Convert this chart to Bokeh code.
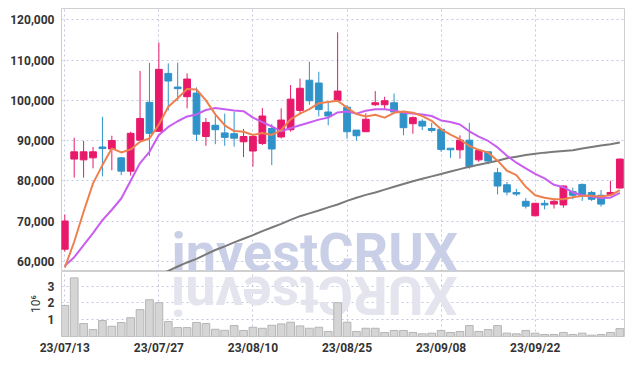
from math import pi
from bokeh.plotting import figure
from bokeh.layouts import column
from bokeh.models import Range1d, FixedTicker, NumeralTickFormatter, ColumnDataSource
from bokeh.core.properties import value
from bokeh.embed import file_html
from bokeh.resources import INLINE

# ---- data ----
dates = ["23/07/13", "23/07/14", "23/07/17", "23/07/18", "23/07/19", "23/07/20", "23/07/21",
         "23/07/24", "23/07/25", "23/07/26", "23/07/27", "23/07/28", "23/07/31",
         "23/08/01", "23/08/02", "23/08/03", "23/08/04", "23/08/07", "23/08/08", "23/08/09",
         "23/08/10", "23/08/11", "23/08/14", "23/08/16", "23/08/17", "23/08/18", "23/08/21",
         "23/08/22", "23/08/23", "23/08/24", "23/08/25", "23/08/28", "23/08/29", "23/08/30",
         "23/08/31", "23/09/01", "23/09/04", "23/09/05", "23/09/06", "23/09/07", "23/09/08",
         "23/09/11", "23/09/12", "23/09/13", "23/09/14", "23/09/15", "23/09/18", "23/09/19",
         "23/09/20", "23/09/21", "23/09/22", "23/09/25", "23/09/26", "23/09/27", "23/10/04",
         "23/10/05", "23/10/06", "23/10/10", "23/10/11", "23/10/12"]

opens = [63000, 85400, 85200, 85700, 88400, 87900, 85700, 82400, 90100, 99500,
         92300, 106700, 103300, 100900, 101800, 91000, 93800, 91900, 91700, 89700,
         87400, 89300, 93000, 90900, 92700, 97500, 105000, 104300, 97100, 100000,
         98300, 92600, 92200, 98900, 98900, 99400, 97100, 94200, 94800, 93000,
         92800, 88100, 87700, 90100, 85200, 87200, 82000, 79000, 77100, 74900,
         71300, 74400, 74200, 74000, 77300, 79100, 77100, 76400, 76600, 78200]
highs = [71600, 90700, 89900, 88400, 95900, 91200, 85900, 92200, 107300, 109300,
         114400, 109200, 109400, 106700, 103200, 95600, 96300, 96700, 97200, 92900,
         91200, 98100, 94100, 98000, 103800, 105400, 109600, 107100, 99600, 116900,
         98800, 92600, 96800, 102300, 100900, 101700, 97200, 96000, 95300, 94400,
         93000, 88100, 91300, 94400, 87800, 87200, 83200, 79700, 78000, 75700,
         74500, 75200, 75600, 78900, 78300, 79300, 77500, 77700, 80000, 85500]
lows = [62400, 80800, 80800, 83100, 81100, 82600, 81400, 81300, 90000, 86200,
        92200, 97500, 99900, 98000, 89900, 88700, 89100, 88700, 88500, 85900,
        83500, 88900, 83900, 90500, 92200, 96700, 98900, 96000, 93800, 99900,
        90500, 90000, 92100, 98600, 97900, 96700, 91300, 91700, 92600, 92000,
        87200, 85700, 85500, 83000, 84700, 84100, 76600, 76400, 76200, 73100,
        71200, 72900, 73100, 73300, 75400, 75000, 75000, 73600, 76500, 78100]
closes = [70000, 87200, 87200, 87200, 88000, 90000, 82400, 91800, 95500, 91800,
          107700, 104800, 102900, 105300, 91600, 94500, 92700, 90800, 90600, 91000,
          91000, 96100, 87900, 95100, 100300, 103000, 99900, 97700, 96100, 102300,
          92200, 91200, 95300, 99400, 99900, 97100, 93200, 95700, 93600, 92500,
          87800, 87700, 90100, 83500, 87500, 84900, 78700, 77200, 76700, 73700,
          74400, 74000, 74900, 78700, 76400, 76200, 75400, 74200, 77100, 85400]
volume_m = [1.85, 3.49, 0.77, 0.41, 0.95, 0.61, 0.83, 1.12, 1.60, 2.19,
            2.01, 0.89, 0.53, 0.53, 0.83, 0.77, 0.43, 0.37, 0.65, 0.36,
            0.55, 0.49, 0.67, 0.75, 0.85, 0.63, 0.49, 0.55, 0.30, 2.01,
            0.85, 0.30, 0.49, 0.49, 0.24, 0.36, 0.36, 0.24, 0.16, 0.20,
            0.36, 0.24, 0.30, 0.65, 0.30, 0.41, 0.65, 0.20, 0.16, 0.36,
            0.20, 0.12, 0.12, 0.24, 0.12, 0.20, 0.08, 0.12, 0.24, 0.47]
ma_short = [58400, 64850, 72300, 79350, 83900, 88050, 87050, 87800, 89700, 90530,
            94000, 98400, 100500, 102800, 102700, 100000, 96500, 93800, 92350, 92200,
            91400, 91900, 91400, 92600, 95300, 96700, 97800, 99300, 99600, 99900,
            98200, 96600, 96000, 96400, 95700, 96900, 97200, 96900, 96100, 94900,
            92800, 91500, 90300, 88650, 87700, 87000, 85000, 82500, 81400, 78500,
            76400, 75800, 75400, 75400, 75900, 76250, 76250, 76100, 76400, 77700]
ma_mid = [58850, 61000, 64000, 67000, 70200, 72800, 75600, 80000, 84400, 87200,
          91400, 93400, 94800, 96000, 96500, 97600, 98100, 97800, 97500, 97300,
          95700, 94600, 93500, 92300, 93100, 93800, 94500, 95200, 95700, 97000,
          97200, 96700, 97400, 97800, 97800, 97500, 96900, 96700, 96500, 96100,
          95000, 94600, 94000, 92300, 91000, 89900, 88300, 86200, 84500, 83100,
          81700, 80600, 79000, 78400, 77100, 76400, 76100, 75700, 75800, 77000]
ma_long_start = 10
ma_long = [56500, 57600, 58700, 59700, 60600, 61700, 62800, 63700, 64700, 65600,
           66500, 67500, 68400, 69300, 70300, 71200, 71900, 72600, 73400, 74100,
           75000, 75800, 76500, 77100, 77800, 78500, 79200, 79900, 80500, 81100,
           81700, 82300, 82900, 83500, 84000, 84500, 85000, 85600, 86000, 86400,
           86700, 87000, 87200, 87400, 87600, 88000, 88400, 88800, 89100, 89500]
price_ticks = [60000, 70000, 80000, 90000, 100000, 110000, 120000]
volume_ticks = [1, 2, 3]
label_every = 10

UP, DOWN = "#e8196a", "#2f93c9"
GRID = "#c3c8de"
FONT = "Roboto"

n = len(dates)
xs = list(range(n))
src = ColumnDataSource(dict(
    x=xs, open=opens, high=highs, low=lows, close=closes,
    top=[max(o, c) for o, c in zip(opens, closes)],
    bottom=[min(o, c) for o, c in zip(opens, closes)],
    color=[UP if c >= o else DOWN for o, c in zip(opens, closes)],
    vol=volume_m, ma5=ma_short, ma20=ma_mid))

xr = Range1d(-0.35, n - 0.4)
xticks = xs[::label_every]


def style(fig):
    fig.background_fill_color = "white"
    fig.border_fill_color = "white"
    fig.outline_line_color = "#cfcfcf"
    fig.grid.grid_line_color = GRID
    fig.grid.grid_line_dash = "2 3"
    fig.xgrid.ticker = FixedTicker(ticks=xticks)
    for ax in fig.axis:
        ax.major_tick_line_color = None
        ax.minor_tick_line_color = None
        ax.major_tick_out = 0
        ax.major_tick_in = 0
        ax.axis_line_color = None
        ax.major_label_text_font = FONT
        ax.major_label_text_font_size = "12px"
        ax.major_label_text_font_style = "bold"
        ax.major_label_text_color = "#333333"


p = figure(width=625, height=271, x_range=xr, y_range=Range1d(57450, 122830),
           output_backend="svg", toolbar_location=None,
           min_border_left=61, min_border_right=0, min_border_top=8, min_border_bottom=0)
p.xaxis.visible = False
p.yaxis.ticker = FixedTicker(ticks=price_ticks)
p.yaxis.formatter = NumeralTickFormatter(format="0,0")
p.yaxis.major_label_standoff = 7
style(p)

p.text(x=[11.34], y=[62050], text=["investCRUX"], text_font=value(FONT),
       text_font_style="bold", text_font_size="54px", text_color="#c9cfe6",
       text_align="left", text_baseline="alphabetic")

p.segment(x0="x", y0="low", x1="x", y1="high", color="color", line_width=1, source=src)
p.vbar(x="x", width=0.72, top="top", bottom="bottom", fill_color="color",
       line_color="color", source=src)
p.line(xs[ma_long_start:], ma_long, line_color="#7a7a7a", line_width=2)
p.line("x", "ma20", source=src, line_color="#c85ef0", line_width=2)
p.line("x", "ma5", source=src, line_color="#ee8050", line_width=2)

v = figure(width=625, height=86, x_range=xr, y_range=Range1d(0, 3.87),
           output_backend="svg", toolbar_location=None,
           min_border_left=61, min_border_right=0, min_border_top=0, min_border_bottom=21)
v.yaxis.ticker = FixedTicker(ticks=volume_ticks)
v.xaxis.ticker = FixedTicker(ticks=xticks)
v.xaxis.major_label_overrides = {i: dates[i] for i in xticks}
v.xaxis.major_label_standoff = 4
v.yaxis.major_label_standoff = 7
v.yaxis.axis_label = "10⁶"
v.yaxis.axis_label_text_font = FONT
v.yaxis.axis_label_text_font_style = "normal"
v.yaxis.axis_label_text_font_size = "12px"
v.yaxis.axis_label_text_color = "#333333"
v.yaxis.axis_label_standoff = 2
style(v)

v.text(x=[41.75], y=[2.44], text=["XURCtsevni"], angle=pi, text_font=value(FONT),
       text_font_style="bold", text_font_size="54px", text_color="#e3e4ed",
       text_align="left", text_baseline="alphabetic")
v.vbar(x="x", width=0.82, top="vol", bottom=0, fill_color="#d5d5d5",
       line_color="#b5b5b5", source=src)

layout = column(p, v)
open("out.html", "w").write(file_html(layout, INLINE))
